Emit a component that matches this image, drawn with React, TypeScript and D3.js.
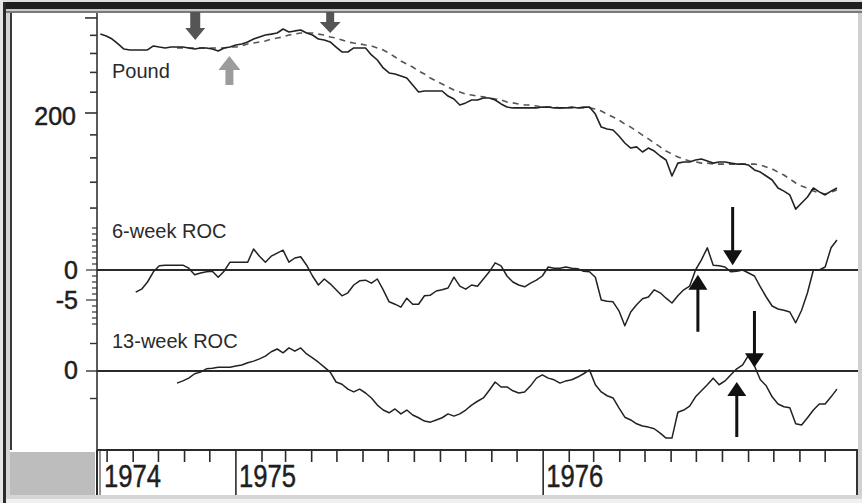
import * as d3 from 'd3';

const W = 862;
const H = 503;

// weekly closes, first week 24 Jul 1974
const firstWeek = new Date(1974, 6, 24);
const domainStart = new Date(1974, 6, 20);
const domainEnd = new Date(1977, 0, 9);

const pound: number[] = [
  240.7, 239.6, 237.9, 235.2, 232.4, 231.9, 231.9, 231.9, 231.9, 234.1,
  233.5, 233.0, 233.5, 233.5, 233.5, 233.0, 232.4, 233.0, 233.0, 232.4,
  231.3, 233.0, 233.5, 234.6, 235.2, 236.3, 237.9, 239.1, 240.2, 240.7,
  241.3, 243.6, 241.9, 242.5, 243.0, 241.3, 240.2, 237.9, 237.4, 236.3,
  233.5, 230.8, 230.8, 233.0, 233.0, 233.0, 229.2, 226.5, 222.3, 219.7,
  219.2, 218.2, 217.1, 213.6, 210.1, 210.6, 210.6, 210.6, 210.6, 208.1,
  206.7, 203.8, 204.8, 206.2, 206.2, 207.2, 207.2, 206.2, 204.3, 202.8,
  202.4, 202.4, 202.4, 202.4, 202.4, 202.8, 202.8, 202.4, 202.4, 202.4,
  202.8, 202.4, 202.8, 202.8, 199.5, 193.5, 192.6, 192.2, 189.5, 186.4,
  184.2, 184.7, 182.5, 184.2, 182.9, 180.8, 179.1, 172.5, 177.8, 178.3,
  178.3, 179.1, 179.5, 178.7, 177.8, 178.3, 178.3, 177.8, 177.4, 177.4,
  177.0, 175.0, 174.1, 172.5, 170.9, 167.7, 166.5, 165.0, 159.6, 161.9,
  164.2, 167.7, 166.2, 165.0, 166.5, 167.7,
];

const poundAverage: (number | null)[] = [
  null, null, null, null, null, null, null, null, null, null, null, null, null,
  233.0, 233.0, 233.0, 233.0, 233.0, 233.0, 233.0, 233.0, 233.0, 233.5,
  233.5, 234.1, 235.2, 235.7, 236.3, 236.8, 237.9, 238.5, 239.1, 240.2,
  240.7, 241.3, 241.3, 241.3, 240.7, 240.2, 239.1, 238.5, 237.4, 236.3,
  235.7, 235.2, 234.6, 234.1, 233.0, 231.9, 230.2, 228.1, 226.0, 224.4,
  222.8, 220.7, 219.2, 217.1, 215.6, 214.1, 212.6, 211.1, 210.1, 209.1,
  208.6, 208.1, 207.7, 207.2, 206.7, 206.2, 205.2, 204.8, 204.3, 203.8,
  203.8, 203.3, 202.8, 202.8, 202.8, 202.4, 202.4, 202.4, 202.4, 202.4,
  202.4, 201.9, 200.9, 199.5, 198.1, 196.7, 194.9, 193.5, 191.7, 189.9,
  188.2, 186.4, 184.7, 182.9, 181.7, 180.4, 179.5, 178.7, 178.3, 177.8,
  177.8, 177.4, 177.4, 177.4, 177.4, 177.4, 177.4, 177.4, 177.4, 177.0,
  176.2, 175.4, 174.1, 172.9, 171.3, 169.7, 168.5, 167.7, 166.5, 165.8,
  165.4, 166.2, 166.9,
];

const roc6Week: (number | null)[] = [
  null, null, null, null, null, null,
  -3.7, -3.2, -2.0, -0.3, 0.7, 0.8, 0.8, 0.8, 0.8, 0.3,
  -0.8, -0.5, -0.3, -0.2, -1.2, -0.2, 1.3, 1.3, 1.3, 1.3,
  3.5, 2.3, 1.3, 2.3, 2.8, 3.3, 1.3, 2.0, 2.2, 0.8,
  -1.0, -2.5, -1.5, -2.3, -3.3, -4.3, -3.8, -2.5, -1.8, -1.7,
  -2.2, -1.5, -3.3, -5.3, -5.7, -6.2, -4.7, -5.7, -5.7, -4.3,
  -4.2, -3.5, -3.3, -3.0, -1.2, -2.7, -3.2, -2.5, -2.7, -1.5,
  -0.3, 1.2, 0.7, -1.0, -2.0, -2.5, -2.8, -2.2, -1.7, -1.0,
  0.5, 0.3, 0.3, 0.5, 0.3, 0.2, -0.2, -0.3, -1.2, -5.0,
  -5.2, -5.3, -6.8, -9.3, -7.0, -5.8, -4.8, -4.5, -3.3, -3.8,
  -4.7, -5.5, -4.3, -3.3, -2.7, 0.0, 1.7, 3.7, 0.8, 0.7,
  0.5, -0.3, -0.2, 0.0, -0.5, -1.0, -2.8, -4.5, -6.0, -6.5,
  -6.7, -7.0, -8.8, -6.7, -3.8, 0.0, 0.0, 0.5, 3.7, 5.0,
];

const roc13Week: (number | null)[] = [
  null, null, null, null, null, null, null, null, null, null, null, null, null,
  -2.2, -1.8, -1.3, -0.5, -0.2, 0.4, 0.5, 0.7, 0.7, 0.7,
  0.9, 1.1, 1.5, 1.8, 2.2, 2.7, 3.5, 4.0, 3.3, 4.2,
  3.6, 4.2, 3.1, 2.4, 1.6, 0.7, -0.2, -2.0, -2.4, -3.3,
  -3.8, -3.3, -4.0, -4.9, -6.2, -7.1, -7.6, -6.9, -7.8, -7.1,
  -8.0, -8.5, -9.1, -9.3, -8.9, -8.5, -7.8, -8.2, -7.8, -7.1,
  -6.2, -5.5, -4.9, -3.5, -2.0, -2.9, -2.9, -3.6, -4.0, -3.8,
  -2.7, -1.3, -0.7, -1.3, -1.6, -2.2, -1.8, -1.6, -1.1, -0.5,
  0.2, -2.5, -3.8, -4.5, -4.9, -6.7, -8.4, -8.9, -9.6, -10.0,
  -10.2, -10.5, -11.3, -12.2, -12.2, -7.5, -7.1, -6.4, -4.7, -3.6,
  -2.5, -1.3, -2.5, -1.8, -0.7, 0.4, 1.1, 2.9, 0.9, -1.6,
  -2.7, -4.7, -6.0, -6.5, -6.7, -9.6, -9.8, -8.5, -7.1, -6.0,
  -6.0, -4.7, -3.3,
];

const poundTicks = [160, 170, 180, 190, 200, 210, 220, 230, 240, 250];
const poundLabels = [200];
const roc6Ticks = [7, 6, 5, 4, 3, 2, 1, 0, -1, -2, -3, -4, -5, -6, -7, -8, -9];
const roc6Labels = [0, -5];
const roc13Ticks = [5, 0, -5];
const roc13Labels = [0];
const yearLabels = ['1974', '1975', '1976'];
const yearDates = [domainStart, new Date(1975, 0, 1), new Date(1976, 0, 1)];

const weekDates = pound.map((_, i) => d3.timeDay.offset(firstWeek, 7 * i));
const monthTicks = d3.timeMonth
  .range(new Date(1974, 7, 1), new Date(1977, 0, 1))
  .filter((d) => d.getMonth() !== 0);

// arrows: week index, from value -> to value (tip)
const blockArrows = [
  { week: 16.1, from: 253.5, to: 237.4, color: '#555', shaft: 10, head: 20, headLen: 12 },
  { week: 21.9, from: 213.6, to: 228.6, color: '#9c9c9c', shaft: 8, head: 22, headLen: 14 },
  { week: 39.0, from: 253.5, to: 241.3, color: '#555', shaft: 8, head: 21, headLen: 11 },
];
const roc6Arrows = [
  { week: 107.3, from: 10.5, to: 0.8 },
  { week: 101.4, from: -10.3, to: -0.8 },
];
const roc13Arrows = [
  { week: 111.0, from: 10.9, to: 0.7 },
  { week: 108.0, from: -12.0, to: -2.0 },
];

const FONT = "'Liberation Sans', Arial, Helvetica, sans-serif";

function arrowPath(x: number, tail: number, tip: number, sw: number, hw: number, hl: number) {
  const dir = tip > tail ? 1 : -1;
  const base = tip - dir * hl;
  return `M${x - sw / 2},${tail}L${x + sw / 2},${tail}L${x + sw / 2},${base}L${x + hw / 2},${base}L${x},${tip}L${x - hw / 2},${base}L${x - sw / 2},${base}Z`;
}

export default function App() {
  const x = d3.scaleTime().domain([domainStart, domainEnd]).range([97, 858]);
  const yPound = d3.scaleLog().domain([160, 250]).range([208.06, 17.94]);
  const yRoc6 = d3.scaleLinear().domain([-10, 0]).range([330, 270]);
  const yRoc13 = d3.scaleLinear().domain([-10, 0]).range([426, 371]);
  const xWeek = (w: number) => x(weekDates[0]) + (x(weekDates[1]) - x(weekDates[0])) * w;

  const mk = (scale: (v: number) => number) =>
    d3
      .line<number | null>()
      .defined((v) => v != null)
      .x((_, i) => x(weekDates[i]))
      .y((v) => scale(v as number));

  const axisX = 97;
  const bandTop = 450;
  const bandBottom = 495;
  const labelInk = { fill: '#1e1e1e', stroke: '#1e1e1e', strokeWidth: 0.5 };

  return (
    <svg
      width={W}
      height={H}
      style={{ position: 'fixed', left: 0, top: 0, display: 'block' }}
      fontFamily={FONT}
    >
      <rect x={0} y={0} width={W} height={H} fill="#fff" />

      {/* frame */}
      <rect x={0} y={0} width={W} height={2} fill="#e0e0e0" />
      <rect x={0} y={2} width={W} height={7} fill="#1f1f1f" />
      <rect x={0} y={9} width={W} height={2} fill="#c8c8c8" />
      <rect x={0} y={11} width={W} height={2} fill="#7a7a7a" />
      <rect x={0} y={0} width={3} height={H} fill="#e6e6e6" />
      <rect x={3} y={2} width={3} height={H - 2} fill="#2a2a2a" />
      <rect x={6} y={13} width={4} height={H - 13} fill="#d4d4d4" />
      <rect x={10} y={13} width={2} height={bandTop - 13} fill="#3a3a3a" />
      <rect x={858} y={13} width={4} height={H - 13} fill="#d0d0d0" />
      <rect x={10} y={bandTop + 2} width={axisX - 12} height={bandBottom - bandTop - 2} fill="#bdbdbd" />
      <rect x={6} y={bandBottom} width={W - 6} height={4} fill="#d6d6d6" />
      <rect x={6} y={bandBottom + 4} width={W - 6} height={4} fill="#f0f0f0" />

      {/* y axis */}
      <line x1={axisX} x2={axisX} y1={13} y2={bandTop} stroke="#333" strokeWidth={1.6} />
      {poundTicks.map((t) => (
        <line
          key={'pt' + t}
          x1={t === 200 || t === 250 ? 85 : 90}
          x2={axisX}
          y1={yPound(t)}
          y2={yPound(t)}
          stroke="#333"
          strokeWidth={1.6}
        />
      ))}
      {poundLabels.map((t) => (
        <text key={'pl' + t} x={76} y={yPound(t) + 12} textAnchor="end" fontSize={25} {...labelInk}>
          {t}
        </text>
      ))}
      {roc6Ticks.map((t) => (
        <line
          key={'r6t' + t}
          x1={t === 0 || t === -5 ? 86 : 92}
          x2={axisX}
          y1={yRoc6(t)}
          y2={yRoc6(t)}
          stroke="#333"
          strokeWidth={1.2}
        />
      ))}
      {roc6Labels.map((t) => (
        <text key={'r6l' + t} x={78} y={yRoc6(t) + 9} textAnchor="end" fontSize={25} {...labelInk}>
          {t}
        </text>
      ))}
      {roc13Ticks.map((t) => (
        <line
          key={'r13t' + t}
          x1={t === 0 ? 86 : 90}
          x2={axisX}
          y1={yRoc13(t)}
          y2={yRoc13(t)}
          stroke="#333"
          strokeWidth={1.4}
        />
      ))}
      {roc13Labels.map((t) => (
        <text key={'r13l' + t} x={78} y={yRoc13(t) + 8} textAnchor="end" fontSize={25} {...labelInk}>
          {t}
        </text>
      ))}

      {/* zero lines */}
      <line x1={axisX} x2={858} y1={yRoc6(0)} y2={yRoc6(0)} stroke="#2a2a2a" strokeWidth={2} />
      <line x1={axisX} x2={858} y1={yRoc13(0)} y2={yRoc13(0)} stroke="#2a2a2a" strokeWidth={2} />

      {/* series */}
      <path d={mk(yPound)(poundAverage) || ''} fill="none" stroke="#555" strokeWidth={1.6} strokeDasharray="6,5" />
      <path d={mk(yPound)(pound) || ''} fill="none" stroke="#222" strokeWidth={1.6} strokeLinejoin="round" />
      <path d={mk(yRoc6)(roc6Week) || ''} fill="none" stroke="#222" strokeWidth={1.5} strokeLinejoin="round" />
      <path d={mk(yRoc13)(roc13Week) || ''} fill="none" stroke="#222" strokeWidth={1.5} strokeLinejoin="round" />

      {/* panel labels */}
      <text x={112} y={78} fontSize={20} fill="#2a2a2a">Pound</text>
      <text x={112} y={238} fontSize={20} fill="#2a2a2a">6-week ROC</text>
      <text x={112} y={348} fontSize={20} fill="#2a2a2a">13-week ROC</text>

      {/* arrows */}
      {blockArrows.map((a, i) => (
        <path
          key={'ba' + i}
          d={arrowPath(xWeek(a.week), yPound(a.from), yPound(a.to), a.shaft, a.head, a.headLen)}
          fill={a.color}
        />
      ))}
      {roc6Arrows.map((a, i) => (
        <path key={'a6' + i} d={arrowPath(xWeek(a.week), yRoc6(a.from), yRoc6(a.to), 3, 19, 15)} fill="#111" />
      ))}
      {roc13Arrows.map((a, i) => (
        <path key={'a13' + i} d={arrowPath(xWeek(a.week), yRoc13(a.from), yRoc13(a.to), 3, 19, 14)} fill="#111" />
      ))}

      {/* date axis */}
      <line x1={axisX} x2={858} y1={bandTop} y2={bandTop} stroke="#2a2a2a" strokeWidth={2} />
      <line x1={axisX} x2={axisX} y1={bandTop} y2={bandBottom} stroke="#2a2a2a" strokeWidth={2} />
      <line x1={100} x2={100} y1={bandTop} y2={bandBottom} stroke="#2a2a2a" strokeWidth={1} />
      <line x1={857} x2={857} y1={bandTop} y2={bandBottom} stroke="#333" strokeWidth={2} />
      {monthTicks.map((d) => (
        <line key={+d} x1={x(d)} x2={x(d)} y1={bandTop} y2={bandTop + 12} stroke="#2a2a2a" strokeWidth={1.6} />
      ))}
      {yearDates.map((d, i) =>
        i === 0 ? null : (
          <line key={'yl' + i} x1={x(d)} x2={x(d)} y1={bandTop} y2={bandBottom} stroke="#2a2a2a" strokeWidth={1.6} />
        )
      )}
      {yearLabels.map((lab, i) => (
        <text
          key={lab}
          x={x(yearDates[i]) + (i === 0 ? 7 : 3)}
          y={487}
          fontSize={32}
          textLength={57}
          lengthAdjust="spacingAndGlyphs"
          {...labelInk}
        >
          {lab}
        </text>
      ))}
    </svg>
  );
}
